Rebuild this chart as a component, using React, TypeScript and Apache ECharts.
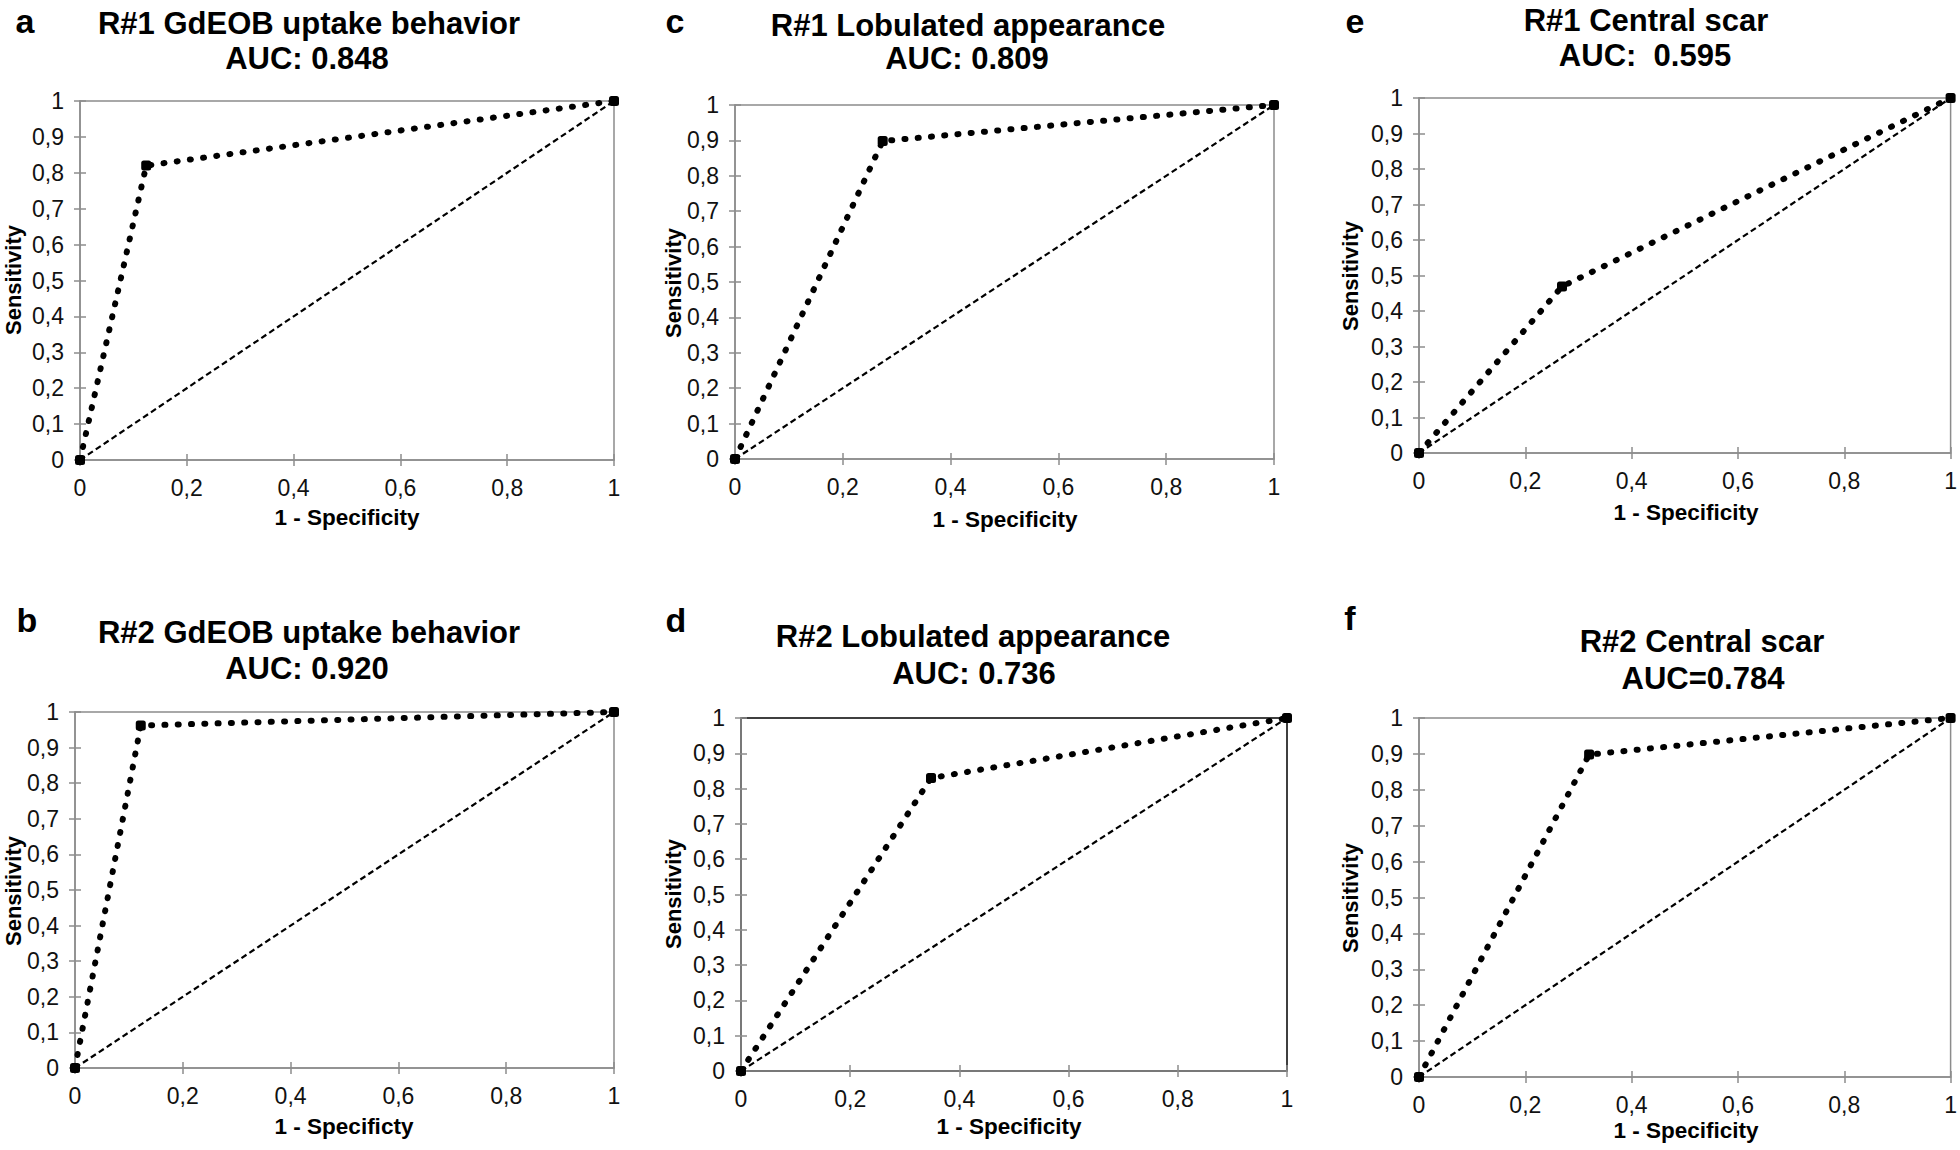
import React, { useEffect, useRef } from "react";
import * as echarts from "echarts";

// ---- data ----
const panelLetters = ["a", "b", "c", "d", "e", "f"];
const panelTitles = [
  "R#1 GdEOB uptake behavior",
  "R#2 GdEOB uptake behavior",
  "R#1 Lobulated appearance",
  "R#2 Lobulated appearance",
  "R#1 Central scar",
  "R#2 Central scar",
];
const aucLabels = ["AUC: 0.848", "AUC: 0.920", "AUC: 0.809", "AUC: 0.736", "AUC:  0.595", "AUC=0.784"];
const xAxisNames = [
  "1 - Specificity",
  "1 - Specificty",
  "1 - Specificity",
  "1 - Specificity",
  "1 - Specificity",
  "1 - Specificity",
];
const yAxisName = "Sensitivity";

const rocA = [[0, 0], [0.124, 0.82], [1, 1]];
const rocB = [[0, 0], [0.122, 0.962], [1, 1]];
const rocC = [[0, 0], [0.274, 0.898], [1, 1]];
const rocD = [[0, 0], [0.348, 0.83], [1, 1]];
const rocE = [[0, 0], [0.269, 0.469], [1, 1]];
const rocF = [[0, 0], [0.32, 0.898], [1, 1]];
const rocCurves = [rocA, rocB, rocC, rocD, rocE, rocF];
const chanceLine = [[0, 0], [1, 1]];

// ---- layout (positions/styles) ----
const layout = [
  { grid: { left: 80, top: 101, width: 534, height: 359 }, letter: [25, 21], t1: [309, 23], t2: [307, 58], xn: [347, 517], yn: [13, 280], border: "#8c8c8c" },
  { grid: { left: 75, top: 712, width: 539, height: 356 }, letter: [27, 620], t1: [309, 632], t2: [307, 668], xn: [344, 1126], yn: [13, 891], border: "#8c8c8c" },
  { grid: { left: 735, top: 105, width: 539, height: 354 }, letter: [675, 21], t1: [968, 25], t2: [967, 58], xn: [1005, 519], yn: [673, 283], border: "#8c8c8c" },
  { grid: { left: 741, top: 718, width: 546, height: 353 }, letter: [676, 620], t1: [973, 636], t2: [974, 673], xn: [1009, 1126], yn: [673, 894], border: "#000" },
  { grid: { left: 1419, top: 98, width: 533, height: 355 }, letter: [1355, 21], t1: [1646, 20], t2: [1645, 55], xn: [1686, 512], yn: [1350, 276], border: "#8c8c8c" },
  { grid: { left: 1419, top: 718, width: 534, height: 359 }, letter: [1350, 618], t1: [1702, 641], t2: [1703, 678], xn: [1686, 1130], yn: [1350, 898], border: "#8c8c8c" },
];

const FONT = "'Liberation Sans', Arial, Helvetica, sans-serif";
const fmt = (v: number) => String(Math.round(v * 10) / 10).replace(".", ",");

function textEl(x: number, y: number, text: string, size: number, bold = true, rotation = 0) {
  return {
    type: "text",
    x,
    y,
    rotation,
    silent: true,
    style: {
      text,
      fill: "#000",
      font: `${bold ? "bold " : ""}${size}px ${FONT}`,
      textAlign: "center",
      textVerticalAlign: "middle",
    },
  };
}

export default function App() {
  const ref = useRef<HTMLDivElement>(null);
  useEffect(() => {
    if (!ref.current) return;
    const chart = echarts.init(ref.current, null, { renderer: "svg" });

    const grids = layout.map((l) => ({
      ...l.grid,
      show: true,
      borderColor: l.border,
      borderWidth: 1.5,
      backgroundColor: "transparent",
      containLabel: false,
    }));

    const axisCommon = {
      type: "value",
      min: 0,
      max: 1,
      axisLine: { show: true, onZero: false, lineStyle: { color: "#8c8c8c", width: 1.5 } },
      axisTick: { show: true, length: 6, lineStyle: { color: "#8c8c8c", width: 1.5 } },
      splitLine: { show: false },
      axisLabel: { color: "#111", fontSize: 23, fontFamily: FONT, margin: 16, formatter: fmt },
    };
    const innerTickAxis = {
      type: "value",
      min: 0,
      max: 1,
      axisLine: { show: false },
      axisTick: { show: true, inside: true, length: 6, lineStyle: { color: "#8c8c8c", width: 1.5 } },
      splitLine: { show: false },
      axisLabel: { show: false },
    };

    const xAxes: any[] = layout.map((_, i) => ({ ...axisCommon, gridIndex: i, interval: 0.2 }));
    const yAxes: any[] = layout.map((_, i) => ({ ...axisCommon, gridIndex: i, interval: 0.1 }));
    layout.forEach((_, i) => {
      xAxes.push({ ...innerTickAxis, gridIndex: i, interval: 0.2, position: "bottom" });
      yAxes.push({ ...innerTickAxis, gridIndex: i, interval: 0.1, position: "left" });
    });

    const series: any[] = [];
    rocCurves.forEach((curve, i) => {
      series.push({
        type: "line",
        xAxisIndex: i,
        yAxisIndex: i,
        data: chanceLine,
        symbol: "none",
        silent: true,
        clip: false,
        lineStyle: { color: "#000", width: 2.2, type: [6, 3.5] },
        z: 2,
      });
      series.push({
        type: "line",
        xAxisIndex: i,
        yAxisIndex: i,
        data: curve,
        symbol: "roundRect",
        symbolSize: 10,
        clip: false,
        itemStyle: { color: "#000" },
        lineStyle: { color: "#000", width: 6, type: [1, 12.3], cap: "round" },
        z: 3,
      });
    });

    const graphics: any[] = [];
    layout.forEach((l, i) => {
      graphics.push(textEl(l.letter[0], l.letter[1], panelLetters[i], 34));
      graphics.push(textEl(l.t1[0], l.t1[1], panelTitles[i], 31));
      graphics.push(textEl(l.t2[0], l.t2[1], aucLabels[i], 31));
      graphics.push(textEl(l.xn[0], l.xn[1], xAxisNames[i], 22.5));
      graphics.push(textEl(l.yn[0], l.yn[1], yAxisName, 22, true, Math.PI / 2));
    });

    chart.setOption({
      animation: false,
      backgroundColor: "#fff",
      grid: grids,
      xAxis: xAxes,
      yAxis: yAxes,
      series,
      graphic: { elements: graphics },
    });
    return () => chart.dispose();
  }, []);

  return (
    <div
      ref={ref}
      style={{ position: "fixed", left: 0, top: 0, width: 1960, height: 1150, background: "#fff" }}
    />
  );
}
